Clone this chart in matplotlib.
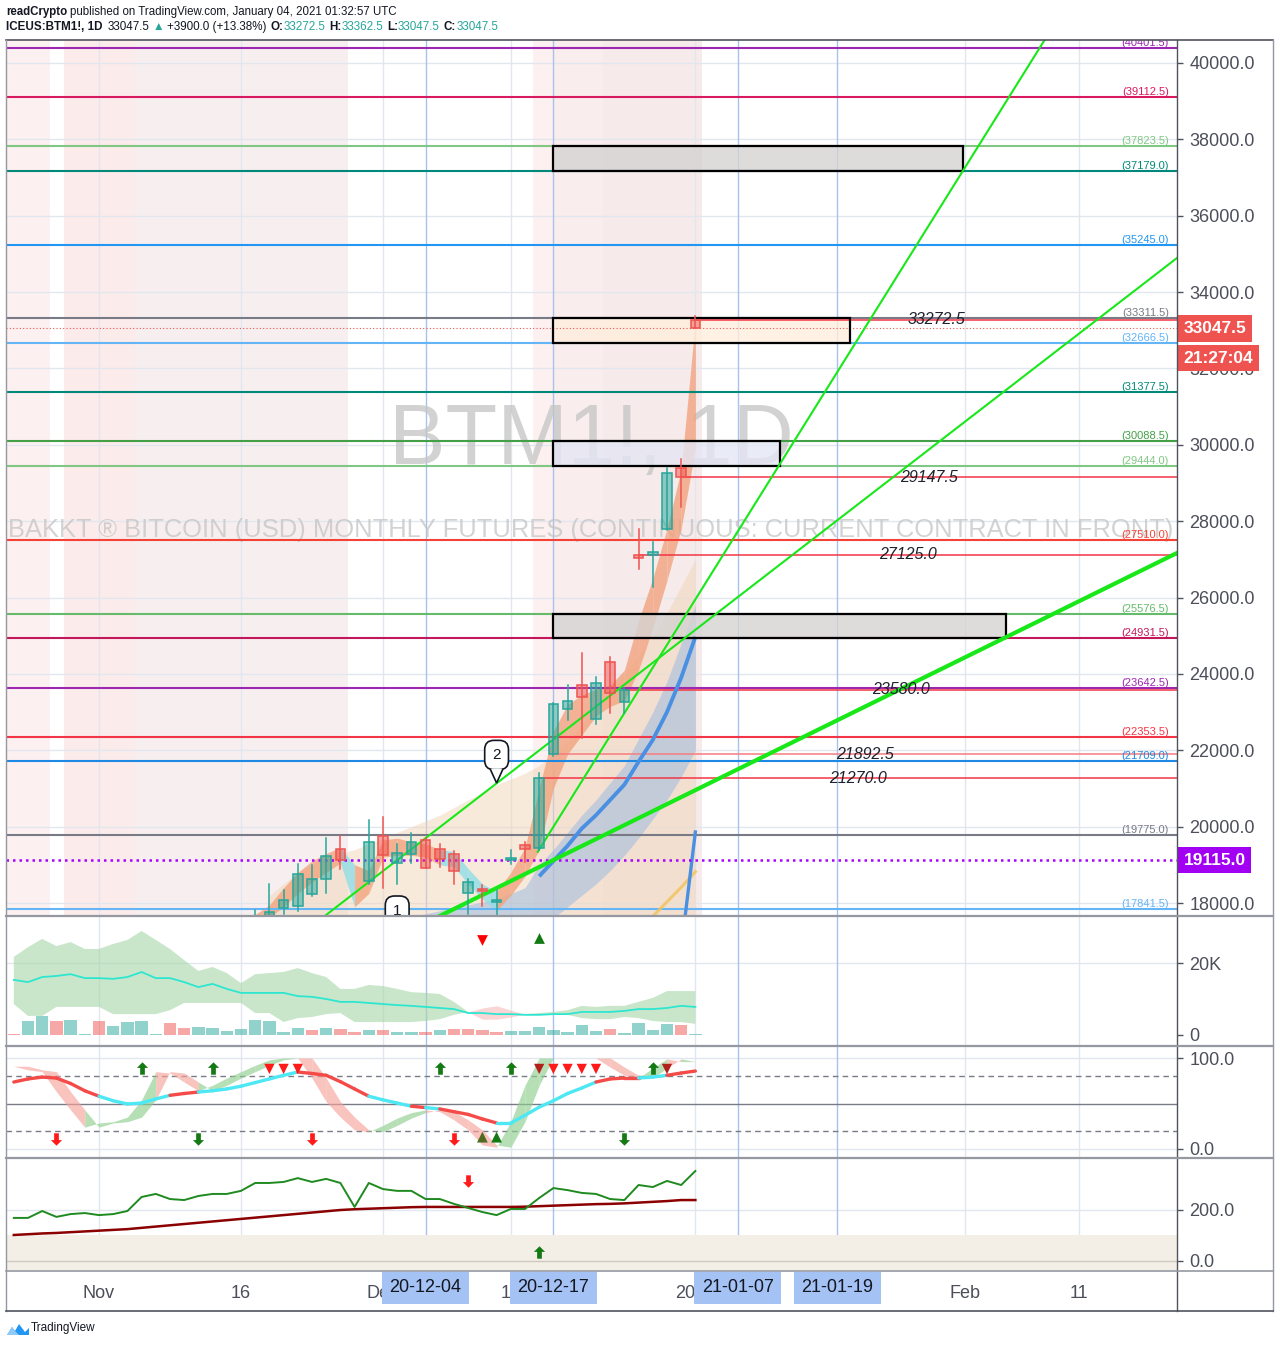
import numpy as np
import matplotlib.pyplot as plt
import matplotlib.transforms as mtransforms
from matplotlib.patches import Rectangle, Polygon
from matplotlib.lines import Line2D

plt.rcParams['font.family'] = ['Liberation Sans', 'DejaVu Sans']

W, H = 1280, 1345

# ---------------- data ----------------
# bar index = trading day, 0 = 2020-11-02
bars = list(range(-6, 43))

candle_bars = list(range(11, 43))
opens = [17300, 17600, 17870, 17920, 18235, 18630, 19415, 17200, 18580, 19755, 19048, 19284,
         19650, 19415, 19284, 18260, 18370, 18026, 19125, 19520, 19440, 21892.5, 23080, 23710,
         22820, 24310, 23265, 27125, 27115, 27795, 29390, 33272.5]
highs = [17820, 18500, 18340, 19020, 18995, 19700, 19755, 17600, 20170, 20250, 19545, 19835,
         19700, 19545, 19360, 18630, 18475, 18340, 19390, 19600, 21405, 23240, 23710, 24550,
         23920, 24440, 23630, 27795, 27455, 29390, 29630, 33362.5]
lows = [17100, 17400, 17700, 17800, 18185, 18260, 18890, 16500, 18500, 18390, 18500, 19050,
        18920, 18940, 18500, 17710, 17920, 17630, 19020, 19075, 19390, 21850, 22790, 22320,
        22690, 22975, 22975, 26750, 26275, 27760, 28370, 33047.5]
closes = [17500, 17770, 18080, 18760, 18630, 19230, 19125, 17150, 19600, 19260, 19310, 19600,
          18920, 19155, 18840, 18550, 18315, 18078, 19180, 19415, 21270, 23210, 23290, 23395,
          23760, 23500, 23580, 27035, 27195, 29260, 29147.5, 33047.5]

# overlay ribbons on the price pane
ribbon_bars = list(range(11, 43))
ribbon_upper = [17700, 17950, 18400, 18800, 19100, 19300, 19450, 19000, 18850, 19650, 19700, 19600,
                19550, 19400, 19350, 18900, 18500, 18300, 18800, 19450, 21000, 22500, 23200, 23450,
                23600, 23700, 24100, 25400, 26500, 27800, 29350, 33270]
ribbon_lower = [17500, 17620, 17900, 18250, 18550, 18800, 19050, 17900, 18250, 19200, 19250, 19250,
                19200, 19000, 18950, 18500, 18100, 17800, 18200, 18700, 19400, 21000, 21900, 22400,
                22900, 23150, 23300, 24100, 25200, 26450, 27800, 29900]
ribbon_bear = [18, 25, 26, 27, 28]

beige_bars = list(range(12, 43))
beige_upper = [18200, 18500, 18800, 19000, 19150, 19300, 19400, 19550, 19700, 19850, 20000, 20150,
               20300, 20500, 20700, 20900, 21100, 21250, 21400, 21600, 21900, 22250, 22650, 23100,
               23550, 24000, 24500, 25000, 25600, 26300, 27000]

blue_bars = list(range(22, 43))
blue_upper = [17650, 17720, 17800, 17870, 17950, 18030, 18100, 18250, 18400, 19000, 19400, 19850,
              20300, 20700, 21150, 21600, 22300, 23000, 23800, 24800, 25800]
blue_lower = [16900, 16950, 17000, 17050, 17100, 17150, 17200, 17250, 17300, 17400, 17600, 17900,
              18200, 18500, 18850, 19250, 19700, 20200, 20700, 21300, 22000]
blue_line_bars = list(range(31, 43))
blue_line = [18700, 19100, 19500, 19950, 20300, 20700, 21100, 21700, 22270, 23000, 23900, 24970]
steep_blue_bars = [41, 42]
steep_blue = [16800, 19860]
yellow_bars = [39, 40, 41, 42]
yellow_line = [17650, 18030, 18410, 18820]

# horizontal levels
levels = [40401.5, 39112.5, 37823.5, 37179.0, 35245.0, 33311.5, 32666.5, 31377.5, 30088.5,
          29444.0, 27510.0, 25576.5, 24931.5, 23642.5, 22353.5, 21709.0, 19775.0, 17841.5]
level_colors = ['#9c27b0', '#d81b60', '#81c784', '#00897b', '#2196f3', '#787b86', '#64b5f6',
                '#00897b', '#43a047', '#81c784', '#f44336', '#66bb6a', '#c2185b', '#9c27b0',
                '#f23645', '#1e88e5', '#787b86', '#64b5f6']

ray_start = [42, 41, 38, 37, 32, 31]
ray_price = [33272.5, 29147.5, 27125.0, 23580.0, 21892.5, 21270.0]
ray_colors = ['#f23645', '#f23645', '#f23645', '#f23645', '#f77c80', '#f23645']

# boxes (bar from, bar to, low, high)
box_x0 = [32, 32, 32, 32]
box_x1 = [60.85, 52.9, 47.96, 63.9]
box_lo = [37179.0, 32666.5, 29444.0, 24931.5]
box_hi = [37823.5, 33311.5, 30088.5, 25576.5]
box_fill = ['#d6d3d3', '#ffeedd', '#e4e6f4', '#d6d3d3']

# trend lines (two anchor points each)
trend_a = [(30.9, 19340), (15.9, 17660), (24.0, 17660)]
trend_b = [(60.85, 37180), (73.0, 34055), (75.92, 27167)]
trend_width = [1.5, 1.5, 3.0]

# background highlights (bar ranges)
shade_from = [-6.55, -2.46, 2.54, 30.56, 32.0, 35.5]
shade_to = [-3.45, 2.54, 17.54, 32.0, 35.5, 42.46]
shade_colors = ['#fdf0f0', '#fcebeb', '#f7efef', '#fdf0f0', '#f9eded', '#f6eaea']

callout_bar = [28, 21]
callout_price = [21876, 17800]
callout_text = ['2', '1']

# volume pane
volume_k = [0.3, 4.0, 5.3, 4.0, 4.1, 0.3, 3.9, 2.5, 3.6, 4.0, 0.2, 3.3, 2.0, 2.2, 2.0, 1.2, 1.7,
            4.1, 4.0, 0.9, 2.0, 1.5, 2.0, 1.7, 0.9, 1.5, 1.5, 0.9, 0.9, 0.9, 1.5, 1.7, 1.7, 1.5,
            0.9, 1.2, 1.2, 2.2, 1.5, 0.9, 2.8, 1.2, 1.7, 0.6, 3.3, 1.5, 3.1, 2.8, 0.3]
volume_up = [0, 1, 1, 0, 1, 1, 0, 1, 1, 1, 1, 0, 0, 1, 1, 1, 1,
             1, 1, 1, 1, 0, 1, 0, 0, 1, 0, 1, 1, 0, 1, 0, 0, 0,
             0, 1, 1, 1, 1, 1, 1, 1, 0, 1, 1, 1, 1, 0, 1]
vol_band_a = [21.7, 24.4, 26.7, 24.7, 25.8, 23.9, 23.9, 25.3, 26.4, 28.9, 26.4, 23.9, 20.8, 17.8,
              18.9, 17.2, 14.4, 16.9, 17.2, 17.5, 18.6, 17.2, 16.1, 12.8, 12.8, 13.9, 13.6, 12.8,
              11.9, 11.7, 11.4, 9.2, 6.4, 4.4, 4.4, 5.0, 5.8, 6.1, 6.4, 6.9, 8.1, 7.8, 8.1, 8.1,
              9.2, 10.3, 12.2, 12.2, 12.2]
vol_band_b = [8.6, 5.3, 5.3, 7.8, 7.8, 7.8, 7.8, 5.8, 5.8, 5.8, 5.8, 6.9, 8.9, 8.9, 8.9, 8.9, 8.9,
              6.1, 6.1, 3.6, 4.7, 5.0, 5.8, 6.1, 3.6, 3.6, 3.6, 3.6, 3.6, 3.9, 4.4, 5.6, 6.4, 7.5,
              8.1, 6.9, 5.8, 5.6, 5.8, 5.6, 4.7, 4.4, 4.4, 5.0, 4.7, 3.9, 3.6, 3.6, 3.1]
vol_ma = [15.3, 14.7, 16.1, 16.4, 16.9, 15.8, 15.8, 15.6, 16.1, 17.5, 15.8, 15.8, 14.7, 13.3, 14.2,
          12.8, 11.7, 11.7, 11.7, 11.7, 10.8, 10.6, 10.0, 9.2, 9.2, 8.9, 8.6, 8.3, 8.1, 7.8, 7.5,
          7.2, 6.1, 6.1, 5.8, 5.8, 5.6, 5.6, 5.8, 5.8, 6.4, 6.4, 6.4, 6.7, 7.2, 7.2, 7.5, 8.1, 7.8]
vol_sell_mark = [27]
vol_buy_mark = [31]

# oscillator pane
osc_line = [73.6, 77, 79, 78, 72, 64, 58, 53, 49.5, 50.5, 55, 59, 61, 62.6, 64, 66, 69,
            73, 77, 81, 84.6, 83, 81, 74, 66, 58, 54, 50.5, 47, 45.5, 44, 41, 38, 33, 28.6,
            28.6, 37, 46, 53, 61, 67, 73.6, 77, 78, 78, 79, 81, 83.5, 85.7]
osc_seg = "-rrrrrrcccccrrcccccccrrrrrcccrcrrrrcccccccrrrccrr"
osc_fast = [91, 87, 85, 63, 43, 24, 28.6, 30, 35, 54, 85, 83.5, 73.6, 64, 70, 78, 85,
            92, 98, 100, 100, 78, 52, 35, 21, 19, 26, 34, 40, 43, 41, 32, 21, 4.4, 2,
            30, 70, 100, 100, 100, 100, 100, 90, 81, 78, 89, 99, 96, 96]
osc_up_arrows = [3, 8, 24, 29, 39]
osc_top_tri = [12, 13, 14, 31, 32, 33, 34, 35, 40]
osc_red_arrows = [-3, 15, 25]
osc_green_down = [7, 37]
osc_green_tri = [27, 28]

# lower pane
p4_green = [169, 169, 196, 173, 184, 188, 180, 184, 196, 251, 263, 243, 239, 255, 263, 263, 275,
            306, 306, 310, 325, 310, 322, 306, 212, 306, 282, 275, 275, 243, 243, 224, 208, 192,
            180, 204, 204, 247, 286, 278, 267, 263, 243, 239, 298, 290, 314, 298, 353]
p4_maroon = [102, 105, 108, 110, 113, 116, 119, 122, 125, 130, 135, 140, 145, 150, 155, 160, 165,
             170, 175, 180, 185, 190, 195, 200, 203, 205, 207, 209, 211, 212, 212, 212, 212, 212,
             212, 212, 213, 215, 217, 219, 221, 223, 224, 226, 229, 232, 235, 239, 239]

time_ticks = [0, 10, 20, 29, 42, 61, 69]
time_labels = ['Nov', '16', 'Dec', '14', '2021', 'Feb', '11']
marked_bars = [23, 32, 45, 52]
marked_labels = ['20-12-04', '20-12-17', '21-01-07', '21-01-19']

# ---------------- figure ----------------
fig = plt.figure(figsize=(W / 100, H / 100), dpi=100)
fig.patch.set_facecolor('white')
renderer = fig.canvas.get_renderer()


def add_pane(top, bottom):
    return fig.add_axes([6 / W, 1 - bottom / H, (1177 - 6) / W, (bottom - top) / H])


ax = add_pane(40, 915)
axv = add_pane(917, 1045)
axo = add_pane(1047, 1157)
axp = add_pane(1159, 1270)
panes = [ax, axv, axo, axp]

XMIN, XMAX = -6.55, 75.92
ax.set_ylim(17686, 40602)
axv.set_ylim(-2778, 32778)
axo.set_ylim(-8.8, 112.1)
axp.set_ylim(-35.3, 400)

for a in panes:
    a.set_xlim(XMIN, XMAX)
    for s in a.spines.values():
        s.set_visible(False)
    a.yaxis.tick_right()
    a.tick_params(axis='y', length=4, width=1, color='#50535e', labelsize=13,
                  labelcolor='#4c4f5a', pad=5)
    a.tick_params(axis='x', length=0)
    if a is not axp:
        a.set_xticks([])
    for b in time_ticks:
        a.axvline(b, color='#e2e7ef', lw=1, zorder=0.3)
    for b in marked_bars:
        a.axvline(b, color='#a9c1ec', lw=1, zorder=0.35)

# ---- main pane ----
ax.set_yticks(range(18000, 40001, 2000))
ax.set_yticklabels([f'{v:.1f}' for v in range(18000, 40001, 2000)])
for v in range(18000, 40001, 2000):
    ax.axhline(v, color='#e2e7ef', lw=1, zorder=0.3)

for a0, a1, c in zip(shade_from, shade_to, shade_colors):
    ax.axvspan(a0, a1, color=c, lw=0, zorder=0.1)


def fit_text(t, target_px):
    w = t.get_window_extent(renderer).width
    t.set_fontsize(t.get_fontsize() * target_px / w)


wm1 = ax.text(34.7, 30077, 'BTM1!, 1D', ha='center', va='center', fontsize=60,
              color='#c4c4c4', alpha=0.75, zorder=0.6)
fit_text(wm1, 405)
wm2 = ax.text(34.6, 27770, 'BAKKT \u00ae BITCOIN (USD) MONTHLY FUTURES (CONTINUOUS: CURRENT CONTRACT IN FRONT)',
              ha='center', va='center', fontsize=18, color='#c4c4c4', alpha=0.75, zorder=0.6)
fit_text(wm2, 1165)

bottom = ax.get_ylim()[0] - 2000
ax.fill_between(beige_bars, beige_upper, bottom, color='#f0d6b8', alpha=0.5, lw=0, zorder=1)
ax.fill_between(blue_bars, blue_upper, blue_lower, color='#9fbbdf', alpha=0.55, lw=0, zorder=1.2)
for i in range(len(ribbon_bars) - 1):
    xs = ribbon_bars[i:i + 2]
    col = '#8ddde6' if ribbon_bars[i + 1] in ribbon_bear else '#f2a27c'
    ax.fill_between(xs, ribbon_upper[i:i + 2], ribbon_lower[i:i + 2], color=col, alpha=0.78,
                    lw=0, zorder=1.4)
ax.plot(blue_line_bars, blue_line, color='#4a90e2', lw=2.8, zorder=3.5, solid_capstyle='butt')
ax.plot(steep_blue_bars, steep_blue, color='#4a90e2', lw=2.4, zorder=3.5)
ax.plot(yellow_bars, yellow_line, color='#f3c259', lw=2.2, alpha=0.8, zorder=3.4)

for v, c in zip(levels, level_colors):
    ax.axhline(v, color=c, lw=1.5, zorder=3)
    ax.text(0.9932, v, f'({v:.1f})', transform=mtransforms.blended_transform_factory(ax.transAxes, ax.transData),
            ha='right', va='bottom', fontsize=8, color=c, zorder=6, clip_on=True)

for b, p, c in zip(ray_start, ray_price, ray_colors):
    ax.plot([b, XMAX], [p, p], color=c, lw=1.1, zorder=3.2)
    ax.text((b + XMAX) / 2, p, f'{p:.1f}', ha='center', va='center', fontsize=11.5,
            style='italic', color='#1e222d', zorder=6)

for x0, x1, lo, hi, fc in zip(box_x0, box_x1, box_lo, box_hi, box_fill):
    ax.add_patch(Rectangle((x0, lo), x1 - x0, hi - lo, fc=fc, ec='none', alpha=0.8, zorder=2.5))
    ax.add_patch(Rectangle((x0, lo), x1 - x0, hi - lo, fill=False, ec='#000000', lw=1.6, zorder=4.2))

for (xa, ya), (xb, yb), lw in zip(trend_a, trend_b, trend_width):
    slope = (yb - ya) / (xb - xa)
    ax.plot([xa, XMAX + 1], [ya, ya + slope * (XMAX + 1 - xa)], color='#18e818', lw=lw, zorder=4.5)

# dotted price lines
ax.axhline(33047.5, color='#ef5350', lw=0.8, ls=(0, (1, 2)), zorder=3.3)
ax.axhline(19115.0, color='#aa00ff', lw=1.8, ls=(0, (1, 1.6)), zorder=4.4)

# candles
for b, o, h, l, c in zip(candle_bars, opens, highs, lows, closes):
    col = '#26a69a' if c >= o else '#ef5350'
    ax.plot([b, b], [l, h], color=col, lw=1.1, zorder=5)
    ax.add_patch(Rectangle((b - 0.34, min(o, c)), 0.68, max(abs(c - o), 25), fc=col, alpha=0.5,
                           ec='none', zorder=5.1))
    ax.add_patch(Rectangle((b - 0.34, min(o, c)), 0.68, max(abs(c - o), 25), fill=False,
                           ec=col, lw=1.1, zorder=5.2))

# callouts
for b, p, s in zip(callout_bar, callout_price, callout_text):
    ax.text(b, p, s, ha='center', va='center', fontsize=11, color='#131722', zorder=8, clip_on=True,
            bbox=dict(boxstyle='round,pad=0.5,rounding_size=0.6', fc='white', ec='#131722', lw=1.2))
    ax.add_patch(Polygon([(b - 0.45, p - 14 * 26.19), (b, p - 28 * 26.19), (b + 0.45, p - 14 * 26.19)],
                         closed=False, fc='white', ec='#131722', lw=1.2, zorder=8.5))

# axis price tags
blend = mtransforms.blended_transform_factory(ax.transAxes, ax.transData)
for p, s, fc in [(33047.5, '33047.5', '#ef5350'), (32270, '21:27:04', '#ef5350'),
                 (19115.0, '19115.0', '#a100f2')]:
    ax.text(1.0058, p, s, transform=blend, ha='left', va='center', fontsize=12.5,
            fontweight='bold', color='white', clip_on=False, zorder=10,
            bbox=dict(boxstyle='square,pad=0.32', fc=fc, ec='none'))

# ---- volume pane ----
axv.set_yticks([0, 20000])
axv.set_yticklabels(['0', '20K'])
axv.axhline(20000, color='#e2e7ef', lw=1, zorder=0.3)
va = np.array(vol_band_a) * 1000
vb = np.array(vol_band_b) * 1000
axv.fill_between(bars, va, vb, where=va >= vb, interpolate=True, color='#a5d6a7', alpha=0.6, lw=0, zorder=1)
axv.fill_between(bars, va, vb, where=va < vb, interpolate=True, color='#f8b9b9', alpha=0.6, lw=0, zorder=1)
axv.plot(bars, np.array(vol_ma) * 1000, color='#2ee6d0', lw=1.3, zorder=3)
axv.bar(bars, np.array(volume_k) * 1000, width=0.88,
        color=['#26a69a' if u else '#ef5350' for u in volume_up], alpha=0.5, lw=0, zorder=2)
axv.scatter(vol_sell_mark, [26400] * len(vol_sell_mark), marker='v', s=60, color='#ff0000', zorder=5, lw=0)
axv.scatter(vol_buy_mark, [26900] * len(vol_buy_mark), marker='^', s=60, color='#137a13', zorder=5, lw=0)

# ---- oscillator pane ----
axo.set_yticks([0, 100])
axo.set_yticklabels(['0.0', '100.0'])
axo.axhline(100, color='#e2e7ef', lw=1, zorder=0.3)
axo.axhline(0, color='#e2e7ef', lw=1, zorder=0.3)
axo.axhline(80, color='#787b86', lw=1, ls=(0, (4, 3)), zorder=0.5)
axo.axhline(20, color='#787b86', lw=1, ls=(0, (4, 3)), zorder=0.5)
axo.axhline(50, color='#787b86', lw=1, zorder=0.5)
# ribbon between the fast line and its previous value
fast_prev = [osc_fast[0]] + osc_fast[:-1]
for i in range(1, len(bars)):
    col = '#8fcf8f' if osc_fast[i] >= osc_fast[i - 1] else '#f6a39b'
    axo.fill_between(bars[i - 1:i + 1], osc_fast[i - 1:i + 1], fast_prev[i - 1:i + 1],
                     color=col, alpha=0.65, lw=0, zorder=1)
for i in range(1, len(bars)):
    col = '#4de8f4' if osc_seg[i] == 'c' else '#f44a48'
    axo.plot(bars[i - 1:i + 1], osc_line[i - 1:i + 1], color=col, lw=2.4, zorder=3,
             solid_capstyle='round')

up_arrow = [(0, 1), (-0.9, 0.1), (-0.38, 0.1), (-0.38, -1), (0.38, -1), (0.38, 0.1), (0.9, 0.1)]
down_arrow = [(x, -y) for x, y in up_arrow]
axo.scatter(osc_up_arrows, [89] * len(osc_up_arrows), marker=up_arrow, s=80, color='#137a13', lw=0, zorder=5)
axo.scatter(osc_top_tri, [88] * len(osc_top_tri), marker='v', s=55,
            color=['#b2201a' if b in (31, 40) else '#ff1a1a' for b in osc_top_tri], lw=0, zorder=5)
axo.scatter(osc_red_arrows, [11] * len(osc_red_arrows), marker=down_arrow, s=80, color='#ff1a1a', lw=0, zorder=5)
axo.scatter(osc_green_down, [11] * len(osc_green_down), marker=down_arrow, s=80, color='#137a13', lw=0, zorder=5)
axo.scatter(osc_green_tri, [13] * len(osc_green_tri), marker='^', s=60,
            color=['#4f6b20', '#137a13'], lw=0, zorder=5)

# ---- lower pane ----
axp.set_yticks([0, 200])
axp.set_yticklabels(['0.0', '200.0'])
axp.axhline(200, color='#e2e7ef', lw=1, zorder=0.3)
axp.axhspan(-40, 100, color='#f3efe7', lw=0, zorder=0.4)
axp.axhline(0, color='#cfc8c0', lw=1, zorder=0.5)
axp.plot(bars, p4_maroon, color='#8b0000', lw=1.8, zorder=3)
axp.plot(bars, p4_green, color='#1f8a1f', lw=1.4, zorder=3.2)
axp.scatter([26], [314], marker=down_arrow, s=80, color='#ff1a1a', lw=0, zorder=5)
axp.scatter([31], [35], marker=up_arrow, s=80, color='#137a13', lw=0, zorder=5)

axp.set_xticks(time_ticks)
axp.set_xticklabels(time_labels)
axp.tick_params(axis='x', length=0, pad=11, labelsize=13, labelcolor='#4c4f5a')
tblend = mtransforms.blended_transform_factory(axp.transData, axp.transAxes)
for b, s in zip(marked_bars, marked_labels):
    axp.text(b, -0.16, s, transform=tblend, ha='center', va='center', fontsize=13, color='#131722',
             clip_on=False, zorder=10, bbox=dict(boxstyle='square,pad=0.42', fc='#a4c2f4', ec='none'))

# ---- frame lines ----
def fline(x0, y0, x1, y1, color, lw):
    fig.add_artist(Line2D([x0 / W, x1 / W], [1 - y0 / H, 1 - y1 / H], transform=fig.transFigure,
                          color=color, lw=lw))


fline(6, 40, 1273, 40, '#50535e', 1.2)
fline(6, 40, 6, 1311, '#9598a1', 1.0)
fline(1273, 40, 1273, 1311, '#9598a1', 1.0)
fline(6, 1311, 1273, 1311, '#50535e', 1.2)
fline(1177, 40, 1177, 1311, '#50535e', 1.0)
for yy in (916, 1046, 1158):
    fline(6, yy, 1273, yy, '#9598a1', 1.6)
fline(6, 1270.5, 1273, 1270.5, '#9598a1', 1.2)

# ---- header / footer ----
def text_run(x_px, y_px, parts, size):
    x = x_px
    for s, color, weight, gap in parts:
        t = fig.text(x / W, 1 - y_px / H, s, fontsize=size, color=color, fontweight=weight,
                     va='center', ha='left')
        x += t.get_window_extent(renderer).width + gap


teal = '#26a69a'
dark = '#131722'
text_run(6, 12, [('readCrypto', dark, 'bold', 3),
                 ('published on TradingView.com, January 04, 2021 01:32:57 UTC', dark, 'normal', 0)], 8.3)
text_run(6, 27, [('ICEUS:BTM1!, 1D', dark, 'bold', 5), ('33047.5', dark, 'normal', 3),
                 ('\u25b2', teal, 'normal', 3), ('+3900.0 (+13.38%)', dark, 'normal', 4),
                 ('O:', dark, 'bold', 0), ('33272.5', teal, 'normal', 4),
                 ('H:', dark, 'bold', 0), ('33362.5', teal, 'normal', 4),
                 ('L:', dark, 'bold', 0), ('33047.5', teal, 'normal', 4),
                 ('C:', dark, 'bold', 0), ('33047.5', teal, 'normal', 0)], 8.4)

logo = fig.add_axes([7 / W, 1 - 1337 / H, 22 / W, 16 / H])
logo.set_xlim(0, 22)
logo.set_ylim(0, 16)
logo.axis('off')
logo.add_patch(Polygon([(0, 2), (5, 10), (8, 6), (12, 13), (18, 5), (22, 9), (22, 2)], fc='#2196f3', ec='none'))
logo.add_patch(Polygon([(0, 2), (5, 10), (8, 6), (12, 2)], fc='#90caf9', ec='none'))
fig.text(31 / W, 1 - 1328 / H, 'TradingView', fontsize=8.5, color=dark, va='center', ha='left')

fig.savefig('out.png', dpi=100, facecolor='white')
